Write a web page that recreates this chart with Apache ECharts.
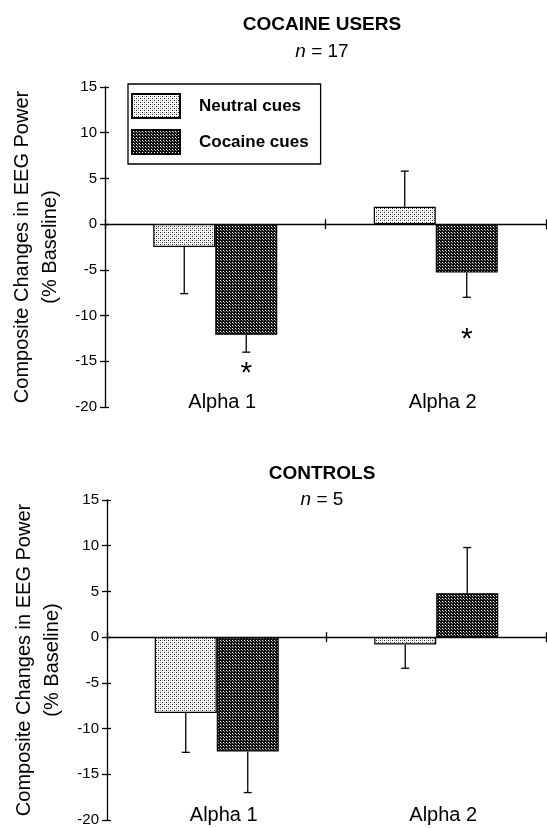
<!DOCTYPE html>
<html>
<head>
<meta charset="utf-8">
<script src="https://cdn.jsdelivr.net/npm/echarts@6/dist/echarts.min.js"></script>
<style>
html,body{margin:0;padding:0;background:#fff;}
#chart{width:547px;height:828px;}
</style>
</head>
<body>
<div id="chart"></div>
<script>
// ---- data ----
var categories = ['Alpha 1', 'Alpha 2'];
var seriesNames = ['Neutral cues', 'Cocaine cues'];
var yTickMin = -20, yTickMax = 15, yTickStep = 5;

// Cocaine users (n = 17)
var usersNeutral = [-2.5, 1.9];
var usersNeutralErrEnd = [-7.6, 5.8];
var usersCocaine = [-12.1, -5.3];
var usersCocaineErrEnd = [-14.0, -8.0];
var usersSignificance = [-16.4, -12.6];   // asterisk positions under cocaine bars

// Controls (n = 5)
var controlsNeutral = [-8.3, -0.8];
var controlsNeutralErrEnd = [-12.6, -3.4];
var controlsCocaine = [-12.5, 4.8];
var controlsCocaineErrEnd = [-17.0, 9.8];

var titles = ['COCAINE USERS', 'CONTROLS'];
var sampleSizes = ['17', '5'];
var yAxisName = 'Composite Changes in EEG Power\n(% Baseline)';

// ---- styling ----
var FONT = '"Liberation Sans", Arial, Helvetica, sans-serif';
var BAR_W = 62;

function makePattern(size, bg, dots) {
  var c = document.createElement('canvas');
  c.width = size; c.height = size;
  var ctx = c.getContext('2d');
  ctx.fillStyle = bg; ctx.fillRect(0, 0, size, size);
  dots.forEach(function (d) { ctx.fillStyle = d[2]; ctx.fillRect(d[0], d[1], 1, 1); });
  return { image: c, repeat: 'repeat' };
}
var neutralFill = makePattern(4, '#ffffff', [[0,0,'#222'],[2,2,'#222'],[2,0,'#aaa'],[0,2,'#aaa']]);
var cocaineFill = makePattern(3, '#111111', [[1,1,'#ffffff'],[2,2,'#999999']]);

var chart = echarts.init(document.getElementById('chart'), null, {renderer: 'canvas'});

var grids = [
  {left: 105, top: 87, width: 441, height: 320},
  {left: 107, top: 500, width: 439, height: 320}
];

var xAxes = [], yAxes = [], series = [];

grids.forEach(function (g, gi) {
  // label axis (bottom)
  xAxes.push({
    type: 'category', gridIndex: gi, data: categories, position: 'bottom',
    axisLine: {show: false, onZero: false}, axisTick: {show: false},
    axisLabel: {fontSize: 20, color: '#000', fontFamily: FONT, margin: -15, padding: [0, 0, 0, 14]}
  });
  // zero line with downward ticks
  xAxes.push({
    type: 'category', gridIndex: gi, data: categories, position: 'bottom',
    axisLine: {show: true, onZero: true, lineStyle: {color: '#000', width: 1.3}},
    axisTick: {show: true, length: 5, inside: false, lineStyle: {color: '#000', width: 1.3}},
    axisLabel: {show: false}
  });
  // upward ticks
  xAxes.push({
    type: 'category', gridIndex: gi, data: categories, position: 'bottom',
    axisLine: {show: false, onZero: true},
    axisTick: {show: true, length: 5, inside: true, lineStyle: {color: '#000', width: 1.3}},
    axisLabel: {show: false}
  });
  yAxes.push({
    type: 'value', gridIndex: gi, position: 'left', min: yTickMin, max: yTickMax, interval: yTickStep,
    name: yAxisName, nameLocation: 'middle', nameGap: 41, nameRotate: 90,
    nameTextStyle: {fontSize: 20, color: '#000', fontFamily: FONT, lineHeight: 28},
    axisLine: {show: true, onZero: false, lineStyle: {color: '#000', width: 1.3}},
    axisTick: {show: true, length: 5, lineStyle: {color: '#000', width: 1.3}},
    axisLabel: {fontSize: 15, color: '#000', fontFamily: FONT, margin: 8},
    splitLine: {show: false}
  });
  yAxes.push({
    type: 'value', gridIndex: gi, position: 'left', min: yTickMin, max: yTickMax, interval: yTickStep,
    axisLine: {show: false, onZero: false},
    axisTick: {show: true, length: 4, inside: true, lineStyle: {color: '#000', width: 1.3}},
    axisLabel: {show: false}, splitLine: {show: false}
  });
});

function barSeries(name, gi, values, fill) {
  return {
    type: 'bar', name: name, xAxisIndex: gi * 3, yAxisIndex: gi * 2,
    data: values, barWidth: BAR_W, barGap: '0%',
    itemStyle: {color: fill, borderColor: '#000', borderWidth: 1.2},
    emphasis: {disabled: true}, z: 3
  };
}

function errSeries(gi, values, ends, dir) {
  var data = values.map(function (v, i) { return [i, v, ends[i]]; });
  return {
    type: 'custom', xAxisIndex: gi * 3, yAxisIndex: gi * 2, z: 4, silent: true,
    data: data,
    renderItem: function (params, api) {
      var p0 = api.coord([api.value(0), api.value(1)]);
      var p1 = api.coord([api.value(0), api.value(2)]);
      var x = p0[0] + dir * BAR_W / 2;
      return {
        type: 'group', children: [
          {type: 'line', shape: {x1: x, y1: p0[1], x2: x, y2: p1[1]}, style: {stroke: '#000', lineWidth: 1.3}},
          {type: 'line', shape: {x1: x - 4, y1: p1[1], x2: x + 4, y2: p1[1]}, style: {stroke: '#000', lineWidth: 1.3}}
        ]
      };
    }
  };
}

function starSeries(gi, positions, dir) {
  var data = positions.map(function (v, i) { return [i, v]; });
  return {
    type: 'custom', xAxisIndex: gi * 3, yAxisIndex: gi * 2, z: 4, silent: true,
    data: data,
    renderItem: function (params, api) {
      var p = api.coord([api.value(0), api.value(1)]);
      return {
        type: 'text', x: p[0] + dir * BAR_W / 2, y: p[1],
        style: {text: '*', fill: '#000', font: '30px ' + FONT, align: 'center', verticalAlign: 'middle'}
      };
    }
  };
}

series.push(barSeries(seriesNames[0], 0, usersNeutral, neutralFill));
series.push(barSeries(seriesNames[1], 0, usersCocaine, cocaineFill));
series.push(errSeries(0, usersNeutral, usersNeutralErrEnd, -1));
series.push(errSeries(0, usersCocaine, usersCocaineErrEnd, 1));
series.push(starSeries(0, usersSignificance, 1));
series.push(barSeries(seriesNames[0], 1, controlsNeutral, neutralFill));
series.push(barSeries(seriesNames[1], 1, controlsCocaine, cocaineFill));
series.push(errSeries(1, controlsNeutral, controlsNeutralErrEnd, -1));
series.push(errSeries(1, controlsCocaine, controlsCocaineErrEnd, 1));

var titleY = [25, 474];
var nY = [52, 500];
var graphics = [];
titles.forEach(function (t, i) {
  graphics.push({type: 'text', x: 322, y: titleY[i], style: {
    text: t, font: 'bold 19px ' + FONT, fill: '#000', align: 'center', verticalAlign: 'middle'}});
  graphics.push({type: 'text', x: 322, y: nY[i], style: {
    text: '{i|n} = ' + sampleSizes[i], fill: '#000', align: 'center', verticalAlign: 'middle',
    fontSize: 19, fontFamily: FONT,
    rich: {i: {fontStyle: 'italic', fontSize: 19, fontFamily: FONT}}}});
});

chart.setOption({
  animation: false,
  backgroundColor: '#fff',
  textStyle: {fontFamily: FONT, color: '#000'},
  grid: grids,
  xAxis: xAxes,
  yAxis: yAxes,
  legend: {
    data: seriesNames.map(function (n) { return {name: n, icon: 'rect'}; }),
    orient: 'vertical', left: 128, top: 84,
    padding: [9, 12, 9, 3], itemGap: 10, itemWidth: 48, itemHeight: 24,
    borderColor: '#000', borderWidth: 1.3, selectedMode: false,
    textStyle: {fontSize: 17, fontWeight: 'bold', color: '#000', fontFamily: FONT, padding: [0, 0, 0, 14]}
  },
  graphic: graphics,
  series: series
});
</script>
</body>
</html>
